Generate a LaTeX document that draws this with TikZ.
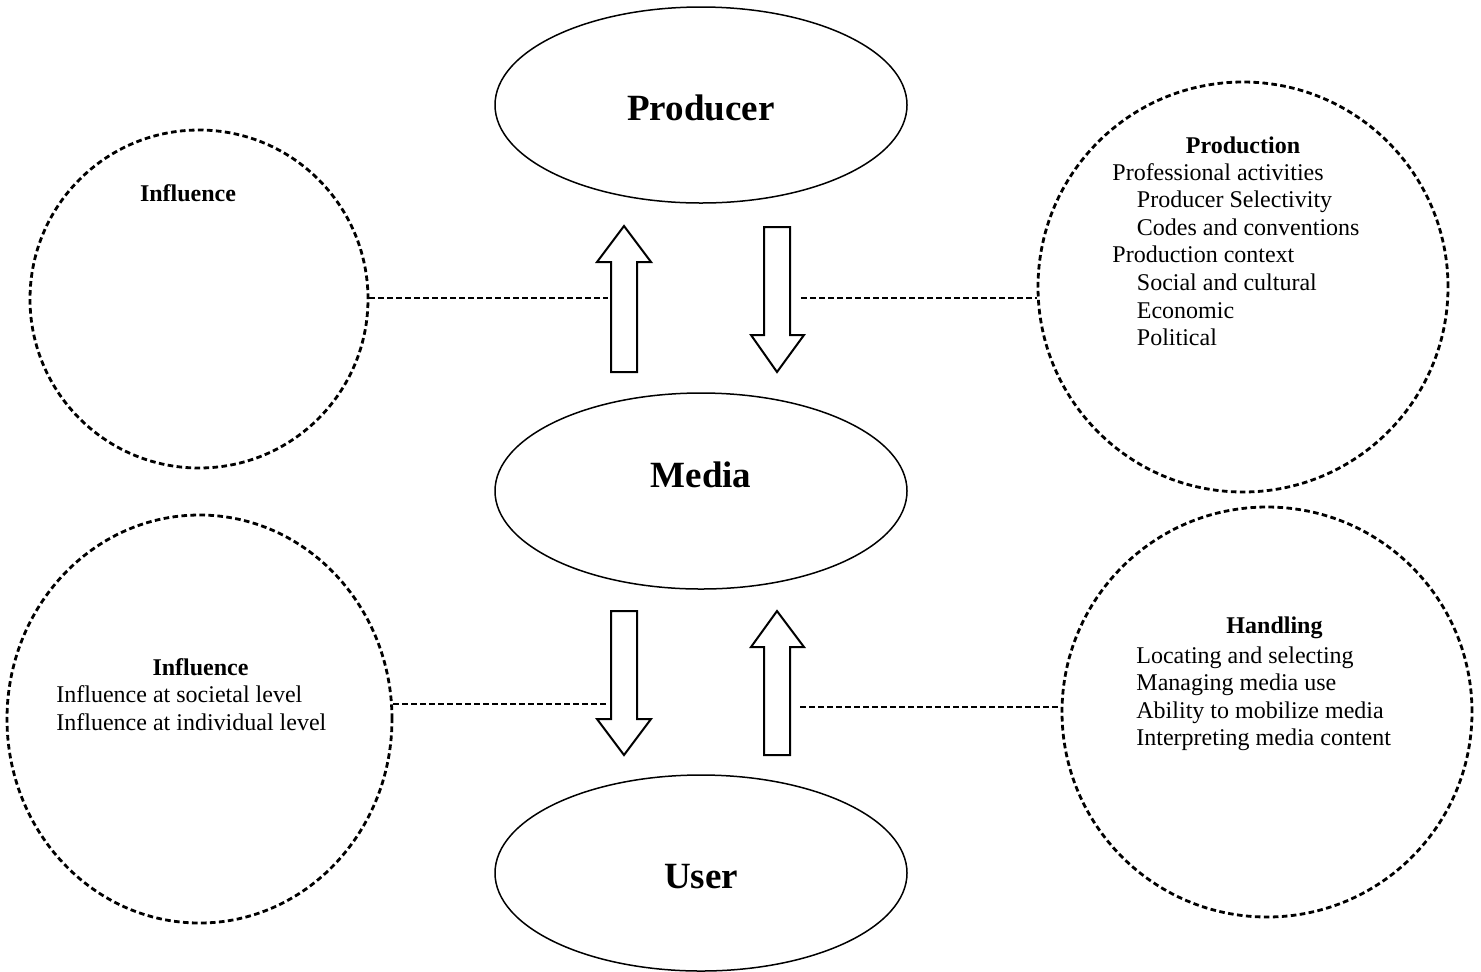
\documentclass[tikz,border=0pt]{standalone}
\usepackage{fontspec}
\setmainfont{Liberation Serif}
\usetikzlibrary{shapes.geometric}

\begin{document}
\begin{tikzpicture}[x=0.5pt, y=-0.5pt,
    hub/.style={draw, ellipse, line width=0.75pt, minimum width=206pt, minimum height=98pt},
    hubtext/.style={inner sep=0pt, anchor=base, font=\fontsize{18.5}{22}\selectfont\bfseries},
    zone/.style={draw, circle, line width=1.4pt, dash pattern=on 2.8pt off 1.7pt},
    tie/.style={line width=1.4pt, dash pattern=on 2.8pt off 1.7pt},
    fatarrow/.style={draw, line width=1pt, line join=miter},
    heading/.style={inner sep=0pt, anchor=base, font=\fontsize{12}{14}\selectfont\bfseries},
    entry/.style={inner sep=0pt, anchor=base west, font=\fontsize{12}{14}\selectfont}]
    \useasboundingbox (0,0) rectangle (1481,971);

    % the three ellipses
    \node[hub] (producer) at (701,105) {};
    \node[hub] (media) at (701,491) {};
    \node[hub] (user) at (701,873) {};
    \node[hubtext] (producertxt) at (701,120) {Producer};
    \node[hubtext] (mediatxt) at (701,487) {Media};
    \node[hubtext] (usertxt) at (701,888) {User};

    % dashed circles
    \node[zone, minimum size=169pt] (inflA) at (199,299) {};
    \node[zone, ellipse, minimum width=192.5pt, minimum height=204pt] (inflB) at (199.5,719) {};
    \node[zone, minimum size=205pt] (prod) at (1243,287) {};
    \node[zone, minimum size=205pt] (hand) at (1267,712) {};

    % texts in the circles
    \node[heading] (inflAtitle) at (188,201) {Influence};
    \node[heading] (prodtitle) at (1243,153) {Production};
    \foreach \ind/\txt [count=\i] in {0/Professional activities, 1/Producer Selectivity, 1/Codes and conventions, 0/Production context, 1/Social and cultural, 1/Economic, 1/Political}
        \node[entry] (prodline\i) at (1112+24.5*\ind, 180+27.6*\i-27.6) {\txt};
    \node[heading] (inflBtitle) at (200.5,675) {Influence};
    \foreach \txt [count=\i] in {Influence at societal level, Influence at individual level}
        \node[entry] (inflBline\i) at (56, 702.5+27.6*\i-27.6) {\txt};
    \node[heading] (handtitle) at (1274.5,633) {Handling};
    \foreach \txt [count=\i] in {Locating and selecting, Managing media use, Ability to mobilize media, Interpreting media content}
        \node[entry] (handline\i) at (1136, 663+27.6*\i-27.6) {\txt};

    % block arrows
    \draw[fatarrow] (611,372) -- (611,262) -- (597,262) -- (624,226) -- (651,262) -- (637,262) -- (637,372) -- cycle;
    \draw[fatarrow] (764,227) -- (764,335) -- (751,335) -- (777,372) -- (804,335) -- (790,335) -- (790,227) -- cycle;
    \draw[fatarrow] (611,611) -- (611,719) -- (597,719) -- (624,755) -- (651,719) -- (637,719) -- (637,611) -- cycle;
    \draw[fatarrow] (764,755) -- (764,647) -- (751,647) -- (777,611) -- (804,647) -- (790,647) -- (790,755) -- cycle;

    % dashed ties
    \coordinate (upA) at (608,298);
    \coordinate (downA) at (801,298);
    \coordinate (downB) at (608,704);
    \coordinate (upB) at (800,707);
    \draw[tie] (upA -| inflA.east) -- (upA);
    \draw[tie] (downA) -- (downA -| prod.west);
    \draw[tie] (downB -| inflB.east) -- (downB);
    \draw[tie] (upB) -- (upB -| hand.west);
\end{tikzpicture}
\end{document}
